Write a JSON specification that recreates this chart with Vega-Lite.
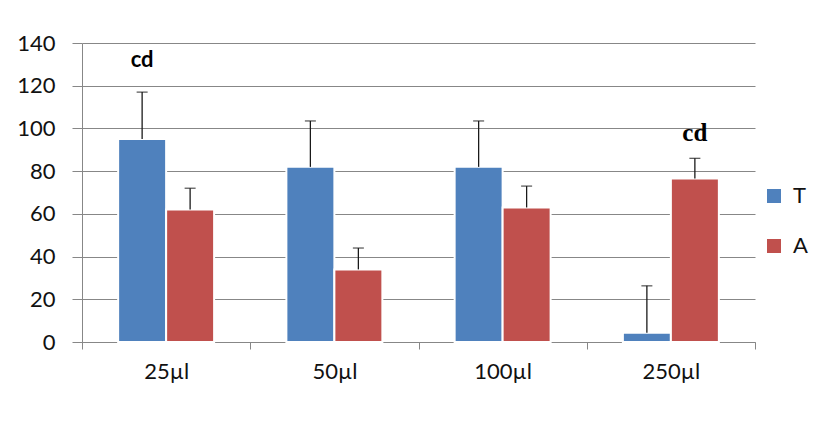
{
  "$schema": "https://vega.github.io/schema/vega-lite/v6.json",
  "width": 673,
  "height": 299,
  "autosize": {"type": "none"},
  "padding": {"left": 82, "top": 43, "right": 62, "bottom": 81},
  "background": "white",
  "config": {
    "view": {"stroke": null},
    "font": "Lato",
    "axis": {"labelFont": "Lato", "labelFontSize": 22, "labelColor": "#111111", "domainColor": "#878787", "tickColor": "#878787", "gridColor": "#878787", "title": null}
  },
  "data": {
    "values": [
      {"conc": "25µl", "series": "T", "value": 95, "upper": 117, "label": "cd"},
      {"conc": "25µl", "series": "A", "value": 62, "upper": 72, "label": ""},
      {"conc": "50µl", "series": "T", "value": 82, "upper": 103.5, "label": ""},
      {"conc": "50µl", "series": "A", "value": 34, "upper": 44, "label": ""},
      {"conc": "100µl", "series": "T", "value": 82, "upper": 103.5, "label": ""},
      {"conc": "100µl", "series": "A", "value": 63, "upper": 73, "label": ""},
      {"conc": "250µl", "series": "T", "value": 4.3, "upper": 26.3, "label": ""},
      {"conc": "250µl", "series": "A", "value": 76.5, "upper": 86, "label": "cd"}
    ]
  },
  "encoding": {
    "x": {
      "field": "conc", "type": "nominal",
      "sort": ["25µl", "50µl", "100µl", "250µl"],
      "scale": {"paddingInner": 0, "paddingOuter": 0},
      "axis": {"tickBand": "extent", "tickSize": 7, "labelPadding": 12, "labelAngle": 0, "grid": false, "domainWidth": 1}
    },
    "xOffset": {
      "field": "series", "type": "nominal", "sort": ["T", "A"],
      "scale": {"paddingInner": 0, "paddingOuter": 0.753}
    }
  },
  "layer": [
    {
      "mark": {"type": "bar", "stroke": "white", "strokeWidth": 2},
      "encoding": {
        "y": {
          "field": "value", "type": "quantitative",
          "scale": {"domain": [0, 140], "nice": false},
          "axis": {"values": [0, 20, 40, 60, 80, 100, 120, 140], "grid": true, "tickSize": 10, "labelPadding": 17}
        },
        "color": {
          "field": "series", "type": "nominal", "sort": ["T", "A"],
          "scale": {"domain": ["T", "A"], "range": ["#4F81BD", "#C0504D"]},
          "legend": {
            "title": null, "orient": "none", "legendX": 681, "legendY": 142,
            "symbolType": "square", "symbolSize": 196, "symbolStrokeWidth": 0,
            "labelFont": "Lato", "labelFontSize": 22, "labelColor": "#111111",
            "labelOffset": 8, "rowPadding": 28, "padding": 0
          }
        }
      }
    },
    {
      "mark": {"type": "rule", "color": "#1a1a1a", "strokeWidth": 1.3},
      "encoding": {
        "y": {"field": "value", "type": "quantitative"},
        "y2": {"field": "upper"}
      }
    },
    {
      "mark": {"type": "tick", "color": "#1a1a1a", "thickness": 1.3, "size": 11, "orient": "horizontal"},
      "encoding": {
        "y": {"field": "upper", "type": "quantitative"}
      }
    },
    {
      "transform": [{"filter": "datum.conc == '25µl' && datum.label != ''"}],
      "mark": {"type": "text", "font": "Lato", "fontWeight": "bold", "fontSize": 22, "baseline": "alphabetic", "dy": -25, "color": "#000"},
      "encoding": {
        "y": {"field": "upper", "type": "quantitative"},
        "text": {"field": "label"}
      }
    },
    {
      "transform": [{"filter": "datum.conc == '250µl' && datum.label != ''"}],
      "mark": {"type": "text", "font": "Liberation Serif", "fontWeight": "bold", "fontSize": 25, "baseline": "alphabetic", "dy": -17, "color": "#000"},
      "encoding": {
        "y": {"field": "upper", "type": "quantitative"},
        "text": {"field": "label"}
      }
    }
  ]
}
